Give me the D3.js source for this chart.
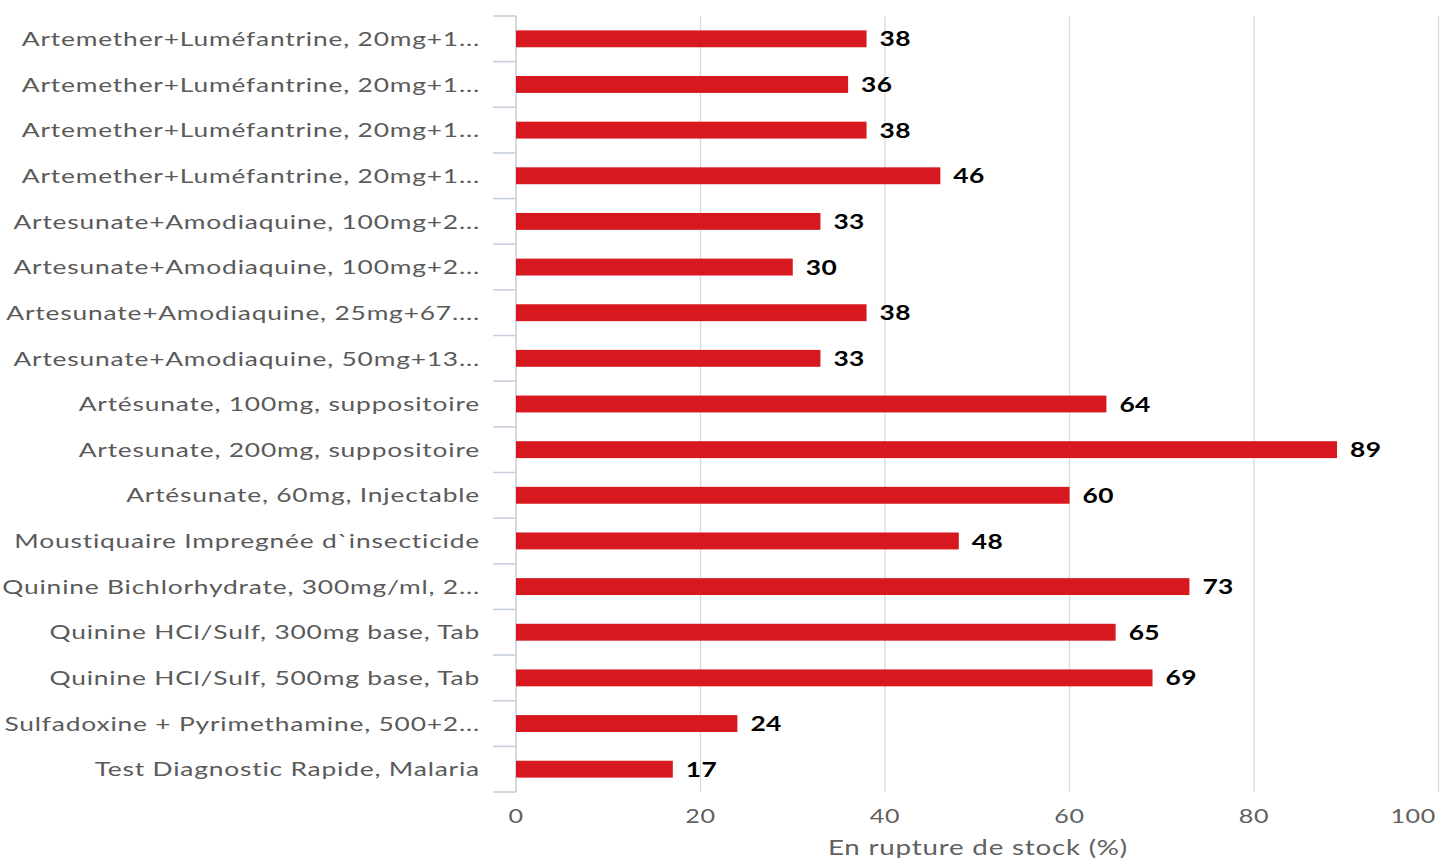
<!DOCTYPE html>
<html>
<head>
<meta charset="utf-8">
<script src="https://cdn.jsdelivr.net/npm/d3@7"></script>
<style>
    body { margin: 0; background: #fff; }
    #chart text { font-family: Lato, "Open Sans", sans-serif; }
</style>
</head>
<body>
<div id="chart"></div>
<script>
const categories = [
    "Artemether+Luméfantrine, 20mg+1...",
    "Artemether+Luméfantrine, 20mg+1...",
    "Artemether+Luméfantrine, 20mg+1...",
    "Artemether+Luméfantrine, 20mg+1...",
    "Artesunate+Amodiaquine, 100mg+2...",
    "Artesunate+Amodiaquine, 100mg+2...",
    "Artesunate+Amodiaquine, 25mg+67....",
    "Artesunate+Amodiaquine, 50mg+13...",
    "Artésunate, 100mg, suppositoire",
    "Artesunate, 200mg, suppositoire",
    "Artésunate, 60mg, Injectable",
    "Moustiquaire Impregnée d`insecticide",
    "Quinine Bichlorhydrate, 300mg/ml, 2...",
    "Quinine HCl/Sulf, 300mg base, Tab",
    "Quinine HCl/Sulf, 500mg base, Tab",
    "Sulfadoxine + Pyrimethamine, 500+2...",
    "Test Diagnostic Rapide, Malaria"
];
const values = [38, 36, 38, 46, 33, 30, 38, 33, 64, 89, 60, 48, 73, 65, 69, 24, 17];
const xTicks = [0, 20, 40, 60, 80, 100];
const xTitle = "En rupture de stock (%)";

const width = 1441, height = 858;
const margin = { top: 16, right: 3, bottom: 66, left: 516 };
const innerW = width - margin.left - margin.right;
const innerH = height - margin.top - margin.bottom;
// the source image is stretched sideways, so text is too
const sx = 1.32;

const svg = d3.select("#chart")
    .append("svg")
    .attr("width", width)
    .attr("height", height);

const g = svg.append("g")
    .attr("transform", `translate(${margin.left},${margin.top})`);

const x = d3.scaleLinear().domain([0, 100]).range([0, 922.5]);
const y = d3.scaleBand()
    .domain(d3.range(categories.length))
    .range([0, innerH])
    .paddingInner(0.63)
    .paddingOuter(0.315);

// vertical grid lines
g.selectAll(".grid")
    .data(xTicks.filter(d => d > 0))
    .enter()
    .append("line")
    .attr("x1", d => x(d))
    .attr("x2", d => x(d))
    .attr("y1", 0)
    .attr("y2", innerH)
    .attr("stroke", "#d9d9d9")
    .attr("stroke-width", 1.3);

// x tick labels (last one kept inside the frame)
g.selectAll(".xlabel")
    .data(xTicks)
    .enter()
    .append("text")
    .attr("transform", (d, i) => {
        const px = i === xTicks.length - 1 ? Math.min(x(d), innerW - 2) : x(d);
        return `translate(${px},${innerH + 31}) scale(${sx},1)`;
    })
    .attr("text-anchor", (d, i) => i === xTicks.length - 1 ? "end" : "middle")
    .attr("fill", "#606060")
    .style("font-size", "19px")
    .style("letter-spacing", "0.5px")
    .text(d => d);

svg.append("text")
    .attr("transform", `translate(978,855) scale(${sx},1)`)
    .attr("text-anchor", "middle")
    .attr("fill", "#606060")
    .style("font-size", "21px")
    .style("letter-spacing", "0.6px")
    .text(xTitle);

// y axis line + category ticks between bands
const step = y.step();
g.append("line")
    .attr("x1", 0).attr("x2", 0)
    .attr("y1", 0).attr("y2", innerH)
    .attr("stroke", "#c5cedb")
    .attr("stroke-width", 1.5);

g.selectAll(".ytick")
    .data(d3.range(categories.length + 1))
    .enter()
    .append("line")
    .attr("x1", -23).attr("x2", 0)
    .attr("y1", i => i * step)
    .attr("y2", i => i * step)
    .attr("stroke", "#c5cedb")
    .attr("stroke-width", 1.5);

// category labels
g.selectAll(".ylabel")
    .data(categories)
    .enter()
    .append("text")
    .attr("transform", (d, i) => `translate(-36,${y(i) + y.bandwidth() / 2}) scale(${sx},1)`)
    .attr("dy", "0.36em")
    .attr("text-anchor", "end")
    .attr("fill", "#5a5a5a")
    .style("font-size", "20px")
    .style("letter-spacing", "0.6px")
    .text(d => d);

// bars
g.selectAll(".bar")
    .data(values)
    .enter()
    .append("rect")
    .attr("x", 0)
    .attr("y", (d, i) => y(i))
    .attr("width", d => x(d))
    .attr("height", y.bandwidth())
    .attr("fill", "#d7191f");

// value labels
g.selectAll(".vlabel")
    .data(values)
    .enter()
    .append("text")
    .attr("transform", (d, i) => `translate(${x(d) + 13},${y(i) + y.bandwidth() / 2}) scale(${sx},1)`)
    .attr("dy", "0.38em")
    .attr("fill", "#000")
    .style("font-size", "20px")
    .style("font-weight", "bold")
    .style("letter-spacing", "0.3px")
    .text(d => d);
</script>
</body>
</html>
